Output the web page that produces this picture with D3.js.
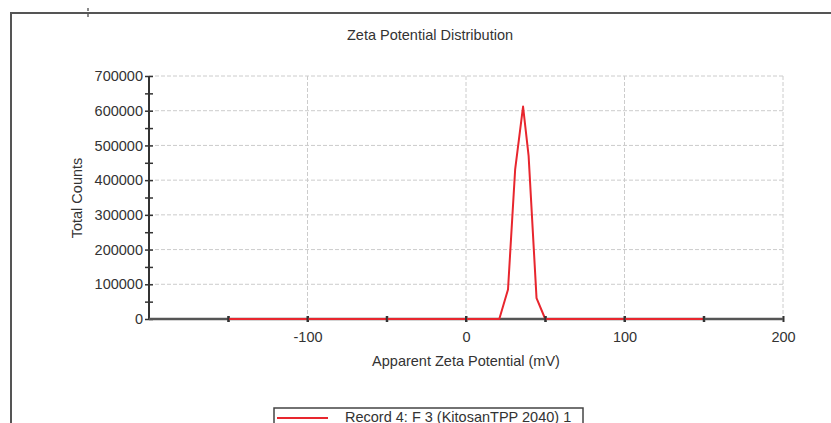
<!DOCTYPE html>
<html>
<head>
<meta charset="utf-8">
<script src="https://cdn.jsdelivr.net/npm/d3@7"></script>
<style>
  body { margin: 0; background: #fff; }
  text { font-family: "Liberation Sans", Arial, sans-serif; fill: #333; }
</style>
</head>
<body>
<svg id="chart" width="831" height="423"></svg>
<script>
// data
var zeta = [-150, 21, 26.5, 31, 36, 39.5, 44.5, 50, 150];
var counts = [0, 0, 85000, 430000, 612000, 470000, 60000, 0, 0];
var xTicks = [-100, 0, 100, 200];
var yTicks = [0, 100000, 200000, 300000, 400000, 500000, 600000, 700000];
var title = "Zeta Potential Distribution";
var xTitle = "Apparent Zeta Potential (mV)";
var yTitle = "Total Counts";
var legendLabel = "Record 4: F 3 (KitosanTPP 2040) 1";

var svg = d3.select("#chart");

// outer frame (only top and left edges visible)
svg.append("path")
  .attr("d", "M11,423 L11,13 L831,13")
  .attr("fill", "none")
  .attr("stroke", "#555")
  .attr("stroke-width", 2);
svg.append("line").attr("x1", 88).attr("x2", 88).attr("y1", 8).attr("y2", 19)
  .attr("stroke", "#666").attr("stroke-width", 1.5).attr("stroke-dasharray", "3,3");

var x = d3.scaleLinear().domain([-200, 200]).range([149, 783]);
var y = d3.scaleLinear().domain([0, 700000]).range([319, 76]);

var g = svg.append("g");

// grid
g.selectAll(".hgrid").data(yTicks.slice(1)).enter()
  .append("line")
  .attr("class", "hgrid")
  .attr("x1", x(-200)).attr("x2", x(200))
  .attr("y1", function(d) { return y(d); })
  .attr("y2", function(d) { return y(d); })
  .attr("stroke", "#ccc").attr("stroke-dasharray", "4,2");

g.selectAll(".vgrid").data(xTicks).enter()
  .append("line")
  .attr("class", "vgrid")
  .attr("x1", function(d) { return x(d); })
  .attr("x2", function(d) { return x(d); })
  .attr("y1", y(700000)).attr("y2", y(0))
  .attr("stroke", "#ccc").attr("stroke-dasharray", "4,2");

// y axis
var yAxis = d3.axisLeft(y).tickValues(d3.range(0, 700001, 50000))
  .tickSize(4)
  .tickFormat(function(d) { return d % 100000 == 0 ? d : ""; });
var ya = g.append("g")
  .attr("transform", "translate(" + x(-200) + ",0)")
  .call(yAxis);
ya.select(".domain").remove();
ya.selectAll(".tick line").attr("x2", 4).attr("x1", -4).attr("stroke", "#333").attr("stroke-width", 1.5);
ya.selectAll(".tick text").attr("x", -6).style("font-size", "14.5px").attr("fill", "#333");
g.append("line").attr("x1", x(-200)).attr("x2", x(-200)).attr("y1", y(700000)).attr("y2", y(0))
  .attr("stroke", "#333").attr("stroke-width", 2);

// x axis
var xAxis = d3.axisBottom(x).tickValues(d3.range(-150, 201, 50))
  .tickSize(3)
  .tickFormat(function(d) { return d % 100 == 0 ? d : ""; });
var xa = g.append("g")
  .attr("transform", "translate(0," + y(0) + ")")
  .call(xAxis);
xa.select(".domain").remove();
g.append("line").attr("x1", x(-200)).attr("x2", x(200)).attr("y1", y(0)).attr("y2", y(0))
  .attr("stroke", "#555").attr("stroke-width", 2.5);
xa.selectAll(".tick line").attr("y1", -3).attr("y2", 3).attr("stroke", "#333").attr("stroke-width", 2);
xa.selectAll(".tick text").attr("y", 13).style("font-size", "14.5px").attr("fill", "#333");

// series
var line = d3.line()
  .x(function(d, i) { return x(zeta[i]); })
  .y(function(d) { return y(d); });
g.append("path")
  .datum(counts)
  .attr("d", line)
  .attr("fill", "none")
  .attr("stroke", "#e8262e")
  .attr("stroke-width", 2)
  .attr("stroke-linejoin", "round");

// re-draw tick marks on top of the red line
g.selectAll(".xt2").data(d3.range(-150, 151, 50)).enter()
  .append("line")
  .attr("x1", function(d) { return x(d); }).attr("x2", function(d) { return x(d); })
  .attr("y1", y(0) - 3).attr("y2", y(0) + 3)
  .attr("stroke", "#333").attr("stroke-width", 2);

// titles
svg.append("text").attr("x", 430).attr("y", 40).attr("text-anchor", "middle")
  .style("font-size", "14.5px").text(title);
svg.append("text").attr("x", 466).attr("y", 366).attr("text-anchor", "middle")
  .style("font-size", "14.5px").text(xTitle);
svg.append("text").attr("transform", "translate(82,198) rotate(-90)").attr("text-anchor", "middle")
  .style("font-size", "14.5px").text(yTitle);

// legend
var lg = svg.append("g").attr("transform", "translate(274,408)");
lg.append("rect").attr("width", 309).attr("height", 20)
  .attr("fill", "#fff").attr("stroke", "#444").attr("stroke-width", 1.5);
lg.append("line").attr("x1", 3).attr("x2", 54).attr("y1", 10).attr("y2", 10)
  .attr("stroke", "#e8262e").attr("stroke-width", 2);
lg.append("text").attr("x", 71).attr("y", 14).style("font-size", "14.5px").text(legendLabel);
</script>
</body>
</html>
